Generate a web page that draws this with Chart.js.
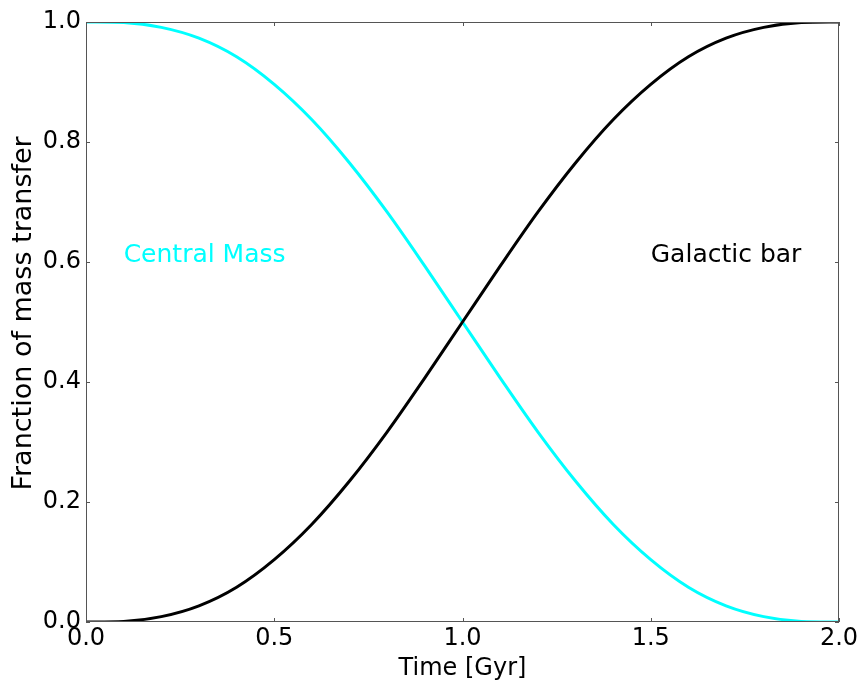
<!DOCTYPE html>
<html lang="en">
<head>
  <meta charset="UTF-8" />
  <title>Fraction of mass transfer</title>
  <script src="https://cdn.jsdelivr.net/npm/chart.js"></script>
  <style>
    html, body { margin: 0; padding: 0; background: #fff; }
    canvas { display: block; }
  </style>
</head>
<body>
  <canvas id="massChart" width="862" height="689"></canvas>

  <script>
    // values
    const timeGyr = [0.0, 0.1, 0.2, 0.3, 0.4, 0.5, 0.6, 0.7, 0.8, 0.9, 1.0,
                     1.1, 1.2, 1.3, 1.4, 1.5, 1.6, 1.7, 1.8, 1.9, 2.0];
    const galacticBar = [0.0, 0.001, 0.009, 0.027, 0.058, 0.104, 0.163, 0.235, 0.317, 0.407, 0.5,
                         0.593, 0.683, 0.765, 0.837, 0.896, 0.942, 0.973, 0.991, 0.999, 1.0];
    const centralMass = [1.0, 0.999, 0.991, 0.973, 0.942, 0.896, 0.837, 0.765, 0.683, 0.593, 0.5,
                         0.407, 0.317, 0.235, 0.163, 0.104, 0.058, 0.027, 0.009, 0.001, 0.0];
    const xTicks = [0.0, 0.5, 1.0, 1.5, 2.0];
    const yTicks = [0.0, 0.2, 0.4, 0.6, 0.8, 1.0];
    const labels = [
      { text: 'Central Mass', x: 0.1, y: 0.6, color: '#00ffff' },
      { text: 'Galactic bar', x: 1.5, y: 0.6, color: '#000000' }
    ];

    const FONT = "'DejaVu Sans', sans-serif";

    const toPoints = ys => ys.map((y, i) => ({ x: timeGyr[i], y: y }));

    // matplotlib-like frame with inward ticks on every side
    const framePlugin = {
      id: 'frame',
      afterDatasetsDraw(chart) {
        const { ctx, chartArea: a, scales: { x, y } } = chart;
        ctx.save();
        ctx.strokeStyle = '#555';
        ctx.lineWidth = 1;
        ctx.beginPath();
        xTicks.forEach(v => {
          const px = Math.round(x.getPixelForValue(v)) + 0.5;
          ctx.moveTo(px, a.bottom); ctx.lineTo(px, a.bottom - 4);
          ctx.moveTo(px, a.top); ctx.lineTo(px, a.top + 4);
        });
        yTicks.forEach(v => {
          const py = Math.round(y.getPixelForValue(v)) + 0.5;
          ctx.moveTo(a.left, py); ctx.lineTo(a.left + 4, py);
          ctx.moveTo(a.right, py); ctx.lineTo(a.right - 4, py);
        });
        ctx.stroke();
        ctx.strokeRect(a.left + 0.5, a.top + 0.5, a.right - a.left - 1, a.bottom - a.top - 1);
        ctx.restore();
      },
      afterDraw(chart) {
        const { ctx, scales: { x, y } } = chart;
        ctx.save();
        ctx.font = '25px ' + FONT;
        ctx.textAlign = 'left';
        ctx.textBaseline = 'alphabetic';
        labels.forEach(l => {
          ctx.fillStyle = l.color;
          ctx.fillText(l.text, x.getPixelForValue(l.x), y.getPixelForValue(l.y));
        });
        ctx.restore();
      }
    };

    new Chart(document.getElementById('massChart'), {
      type: 'line',
      data: {
        datasets: [
          {
            label: 'Galactic bar',
            data: toPoints(galacticBar),
            borderColor: '#000000',
            borderWidth: 3,
            pointRadius: 0,
            cubicInterpolationMode: 'monotone',
            fill: false
          },
          {
            label: 'Central Mass',
            data: toPoints(centralMass),
            borderColor: '#00ffff',
            borderWidth: 3,
            pointRadius: 0,
            cubicInterpolationMode: 'monotone',
            fill: false
          }
        ]
      },
      options: {
        responsive: false,
        devicePixelRatio: 1,
        animation: false,
        layout: { padding: { top: 22, right: 23, left: 0, bottom: 0 } },
        plugins: { legend: { display: false }, tooltip: { enabled: false } },
        scales: {
          x: {
            type: 'linear',
            min: 0, max: 2,
            afterFit: s => { s.height = 67; },
            afterBuildTicks: s => { s.ticks = xTicks.map(v => ({ value: v })); },
            grid: { display: false, drawTicks: false },
            border: { display: false },
            ticks: {
              color: '#000',
              font: { family: FONT, size: 24 },
              padding: 2,
              maxRotation: 0,
              callback: v => v.toFixed(1)
            },
            title: {
              display: true,
              text: 'Time [Gyr]',
              color: '#000',
              font: { family: FONT, size: 24 },
              padding: { top: 0, bottom: 6 }
            }
          },
          y: {
            type: 'linear',
            min: 0, max: 1,
            afterFit: s => { s.width = 86; },
            afterBuildTicks: s => { s.ticks = yTicks.map(v => ({ value: v })); },
            grid: { display: false, drawTicks: false },
            border: { display: false },
            ticks: {
              color: '#000',
              font: { family: FONT, size: 24 },
              padding: 5,
              callback: v => v.toFixed(1)
            },
            title: {
              display: true,
              // leading spaces nudge the centred label up a little, as in the reference
              text: '  Franction of mass transfer',
              color: '#000',
              font: { family: FONT, size: 27 },
              padding: { top: 8, bottom: 0 }
            }
          }
        }
      },
      plugins: [framePlugin]
    });
  </script>
</body>
</html>
